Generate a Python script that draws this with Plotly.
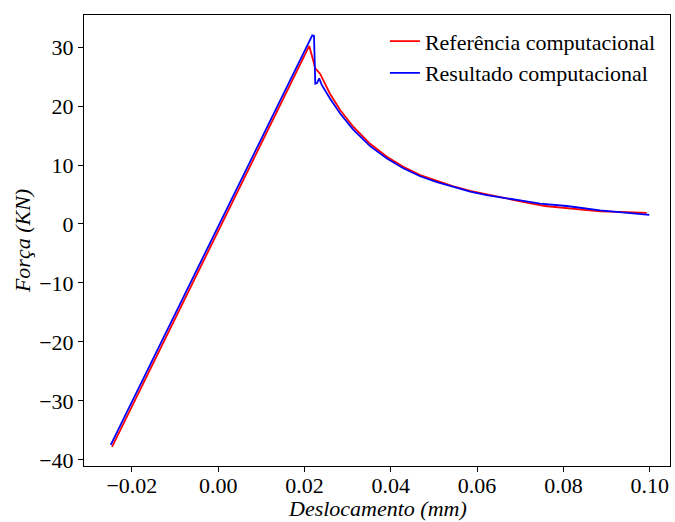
import plotly.graph_objects as go

# Data
ref_x = [-0.0246, 0.0211, 0.0225, 0.0236, 0.0259, 0.0283, 0.0313, 0.0352, 0.0391,
         0.0429, 0.0468, 0.0507, 0.0545, 0.0584, 0.0622, 0.0661, 0.0700, 0.0757,
         0.0808, 0.0885, 0.0947, 0.0993]
ref_y = [-37.8, 30.2, 26.4, 25.5, 22.1, 19.3, 16.5, 13.6, 11.4,
         9.7, 8.3, 7.3, 6.4, 5.6, 5.0, 4.4, 3.85, 3.05,
         2.7, 2.15, 2.0, 1.9]

res_x = [-0.0249, 0.0218, 0.0222, 0.0225, 0.0229, 0.0234, 0.0240, 0.0259, 0.0283,
         0.0313, 0.0352, 0.0391, 0.0429, 0.0468, 0.0507, 0.0545, 0.0584, 0.0622,
         0.0661, 0.0700, 0.0746, 0.0808, 0.0885, 0.0940, 0.0999]
res_y = [-37.45, 32.0, 31.9, 23.8, 23.9, 24.7, 23.6, 21.3, 18.7,
         16.0, 13.2, 11.1, 9.45, 8.1, 7.1, 6.25, 5.5, 4.9,
         4.5, 4.0, 3.45, 3.05, 2.3, 1.95, 1.55]

x_ticks = [-0.02, 0.00, 0.02, 0.04, 0.06, 0.08, 0.10]
x_ticktext = ["\u22120.02", "0.00", "0.02", "0.04", "0.06", "0.08", "0.10"]
y_ticks = [-40, -30, -20, -10, 0, 10, 20, 30]
y_ticktext = ["\u221240", "\u221230", "\u221220", "\u221210", "0", "10", "20", "30"]
x_title = "Deslocamento (mm)"
y_title = "Força (KN)"

FONT = "Liberation Serif, Times New Roman, serif"

fig = go.Figure()
fig.add_trace(go.Scatter(x=ref_x, y=ref_y, mode="lines", name="Referência computacional",
                         line=dict(color="#ff0000", width=1.8), legendgroup="a"))
fig.add_trace(go.Scatter(x=res_x, y=res_y, mode="lines", name="Resultado computacional",
                         line=dict(color="#0000ff", width=1.8), legendgroup="b"))

fig.update_layout(
    width=675, height=522,
    margin=dict(l=84, r=5, t=15, b=56),
    paper_bgcolor="white", plot_bgcolor="white",
    font=dict(family=FONT, size=22, color="black"),
    showlegend=True,
    legend=dict(x=0.5135, y=0.988, xanchor="left", yanchor="top",
                bgcolor="rgba(0,0,0,0)", font=dict(size=22, family=FONT),
                traceorder="grouped", tracegroupgap=0),
    xaxis=dict(range=[-0.0311, 0.1047], tickmode="array", tickvals=x_ticks,
               ticktext=x_ticktext, showgrid=False, zeroline=False, automargin=False,
               showline=True, linecolor="black", linewidth=1, mirror=True,
               ticks="outside", ticklen=5, tickcolor="black", tickwidth=1,
               ticklabelstandoff=-5),
    yaxis=dict(range=[-41.05, 35.45], tickmode="array", tickvals=y_ticks,
               ticktext=y_ticktext, showgrid=False, zeroline=False, automargin=False,
               showline=True, linecolor="black", linewidth=1, mirror=True,
               ticks="outside", ticklen=5, tickcolor="black", tickwidth=1,
               title=dict(text="<i>" + y_title + "</i>", standoff=2,
                          font=dict(size=22, family=FONT))),
    annotations=[dict(text="<i>" + x_title + "</i>", xref="paper", yref="paper",
                      x=0.5, y=-0.094, xanchor="center", yanchor="middle",
                      showarrow=False, font=dict(size=22, family=FONT))],
)

fig.write_html("out.html")
